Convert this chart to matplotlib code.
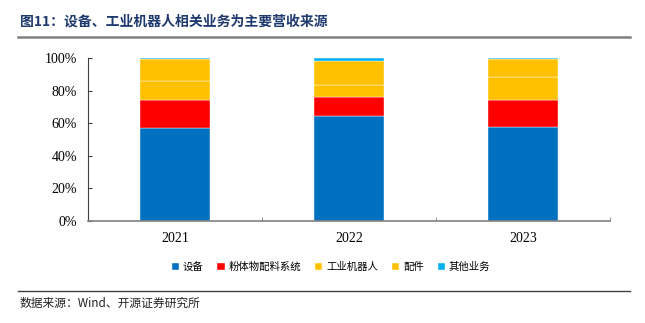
import matplotlib
matplotlib.use("Agg")
import matplotlib.pyplot as plt
import numpy as np
from matplotlib.ticker import FuncFormatter

years = ["2021", "2022", "2023"]
series_names = ["设备", "粉体物配料系统", "工业机器人", "配件", "其他业务"]
equipment = [57.2, 64.4, 57.4]
powder = [16.9, 11.7, 16.9]
robots = [11.7, 7.2, 14.0]
parts = [13.6, 15.0, 11.1]
others = [0.6, 1.7, 0.6]
colors = ["#0070C0", "#FF0000", "#FFC000", "#FFC000", "#00B0F0"]

cjk = ["Noto Sans CJK SC", "DejaVu Sans"]
serif = ["Liberation Serif", "Noto Sans CJK SC"]

fig = plt.figure(figsize=(6.45, 3.23), dpi=100)
ax = fig.add_axes([88/645, 1-221/323, (610-88)/645, (221-58)/323])

x = np.arange(len(years))
bottom = np.zeros(len(years))
handles = []
for name, vals, c in zip(series_names, [equipment, powder, robots, parts, others], colors):
    b = ax.bar(x, vals, 0.4, bottom=bottom, color=c, label=name, edgecolor="white", linewidth=0.3)
    handles.append(b)
    bottom += np.array(vals)

ax.set_xlim(-0.5, 2.5)
ax.set_ylim(0, 100)
ax.set_yticks(np.arange(0, 101, 20))
ax.yaxis.set_major_formatter(FuncFormatter(lambda v, p: f"{int(v)}%"))
ax.set_xticks(x)
ax.set_xticklabels(years)
ax.tick_params(axis="x", length=0, pad=8)
ax.set_xticks([-0.5, 0.5, 1.5, 2.5], minor=True)
ax.tick_params(axis="x", which="minor", length=3, direction="in", color="#808080")
ax.tick_params(axis="y", length=3, direction="in", color="#404040", pad=8)
for lab in ax.get_xticklabels() + ax.get_yticklabels():
    lab.set_fontfamily(serif)
    lab.set_fontsize(10)
for s in ["top", "right"]:
    ax.spines[s].set_visible(False)
ax.spines["left"].set_color("#404040")
ax.spines["bottom"].set_color("#808080")
ax.spines["bottom"].set_linewidth(1.2)

leg = fig.legend(handles, series_names, loc="center", bbox_to_anchor=(331/645, 1-267/323),
                 ncol=5, frameon=False, prop={"family": cjk, "size": 7.5},
                 handlelength=0.7, handleheight=0.7, handletextpad=0.4, columnspacing=1.3)

fig.text(20/645, 1-22/323, "图11：设备、工业机器人相关业务为主要营收来源", fontfamily=cjk,
         fontsize=10, fontweight="bold", color="#1F3A6E", va="center", ha="left")
fig.add_artist(plt.Line2D([18/645, 630/645], [1-37/323, 1-37/323], color="#808080", linewidth=1.8))
fig.add_artist(plt.Line2D([18/645, 630/645], [1-291/323, 1-291/323], color="#404040", linewidth=1.0))
fig.text(20/645, 1-303/323, "数据来源：Wind、开源证券研究所", fontfamily=cjk, fontsize=8.5,
         va="center", ha="left", color="#222222")

fig.savefig("out.png", dpi=100)
